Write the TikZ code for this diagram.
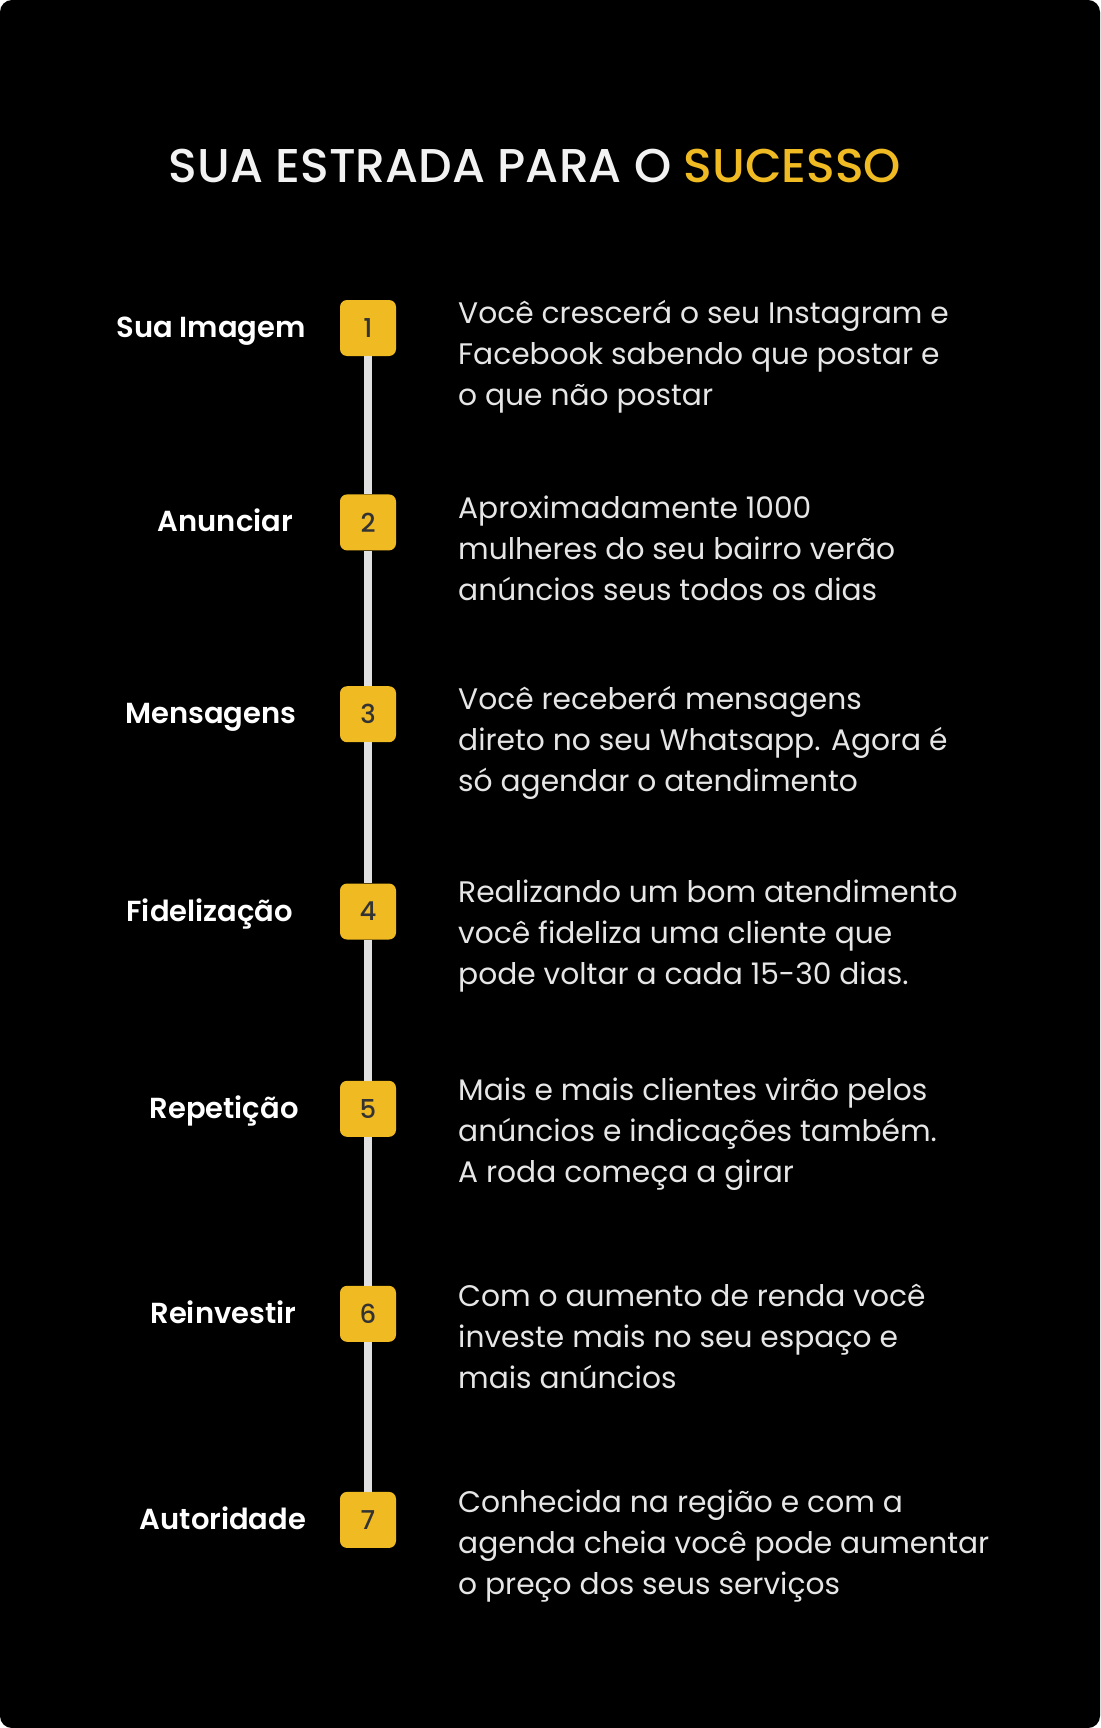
\documentclass[tikz,border=0pt]{standalone}
\usepackage{fontspec}
\setmainfont{Poppins}[BoldFont={Poppins SemiBold}]
\newfontfamily\medfont{Poppins Medium}
\definecolor{gold}{HTML}{F0BA22}
\definecolor{numgray}{HTML}{333333}
\definecolor{roadgray}{HTML}{E0E0E0}
\definecolor{bodygray}{HTML}{E6E6E6}
\definecolor{titlewhite}{HTML}{F2F2F2}
\tikzset{
  numbox/.style={fill=gold, rounded corners=7pt, minimum width=56pt, minimum height=56pt, inner sep=0pt,
    text=numgray, font=\medfont\fontsize{26}{26}\selectfont},
  steplabel/.style={anchor=base east, inner sep=0pt, text=white, font=\bfseries\fontsize{29}{29}\selectfont},
  desc/.style={anchor=base west, inner sep=0pt, text=bodygray, font=\fontsize{29.7}{29.7}\selectfont},
  road/.style={draw=roadgray, line width=8pt},
}
\newcommand{\blocklines}[5]{%
  \node[desc] (#1a) at (458,#2-1.5) {#3};
  \node[desc] (#1b) at (458,#2+39.5) {#4};
  \node[desc] (#1c) at (458,#2+80.5) {#5};
}
\begin{document}
\begin{tikzpicture}[x=1pt,y=-1pt]
\fill[white] (0,0) rectangle (1100,1728);
\fill[black, rounded corners=12pt] (0,0) rectangle (1100,1728);
\useasboundingbox (0,0) rectangle (1100,1728);

\node[anchor=base, inner sep=0pt, font=\medfont\fontsize{47.4}{47.4}\selectfont, text=titlewhite] (title) at (535,182.3)
  {SUA ESTRADA PARA O \textcolor{gold}{SUCESSO}};

\node[numbox] (b1) at (368,328) {1};
\node[numbox] (b2) at (368,522.4) {2};
\node[numbox] (b3) at (368,714.2) {3};
\node[numbox] (b4) at (368,911.5) {4};
\node[numbox] (b5) at (368,1108.8) {5};
\node[numbox] (b6) at (368,1313.8) {6};
\node[numbox] (b7) at (368,1519.9) {7};

\draw[road] (b1) -- (b2);
\draw[road] (b2) -- (b3);
\draw[road] (b3) -- (b4);
\draw[road] (b4) -- (b5);
\draw[road] (b5) -- (b6);
\draw[road] (b6) -- (b7);

\node[steplabel] (l1) at (306,337.5) {Sua Imagem};
\node[steplabel] (l2) at (293.2,531.9) {Anunciar};
\node[steplabel] (l3) at (296.5,723.7) {Mensagens};
\node[steplabel] (l4) at (293.2,921) {Fidelização};
\node[steplabel] (l5) at (298.7,1118.3) {Repetição};
\node[steplabel] (l6) at (296.5,1323.3) {Reinvestir};
\node[steplabel] (l7) at (306.4,1529.4) {Autoridade};

\blocklines{d1}{325}{Você crescerá o seu Instagram e}{Facebook sabendo que postar e}{o que não postar}
\blocklines{d2}{520.2}{Aproximadamente 1000}{mulheres do seu bairro verão}{anúncios seus todos os dias}
\blocklines{d3}{710.9}{Você receberá mensagens}{direto no seu Whatsapp. Agora é}{só agendar o atendimento}
\blocklines{d4}{903.8}{Realizando um bom atendimento}{você fideliza uma cliente que}{pode voltar a cada 15-30 dias.}
\blocklines{d5}{1102.2}{Mais e mais clientes virão pelos}{anúncios e indicações também.}{A roda começa a girar}
\blocklines{d6}{1308.3}{Com o aumento de renda você}{investe mais no seu espaço e}{mais anúncios}
\blocklines{d7}{1514.3}{Conhecida na região e com a}{agenda cheia você pode aumentar}{o preço dos seus serviços}
\end{tikzpicture}
\end{document}
